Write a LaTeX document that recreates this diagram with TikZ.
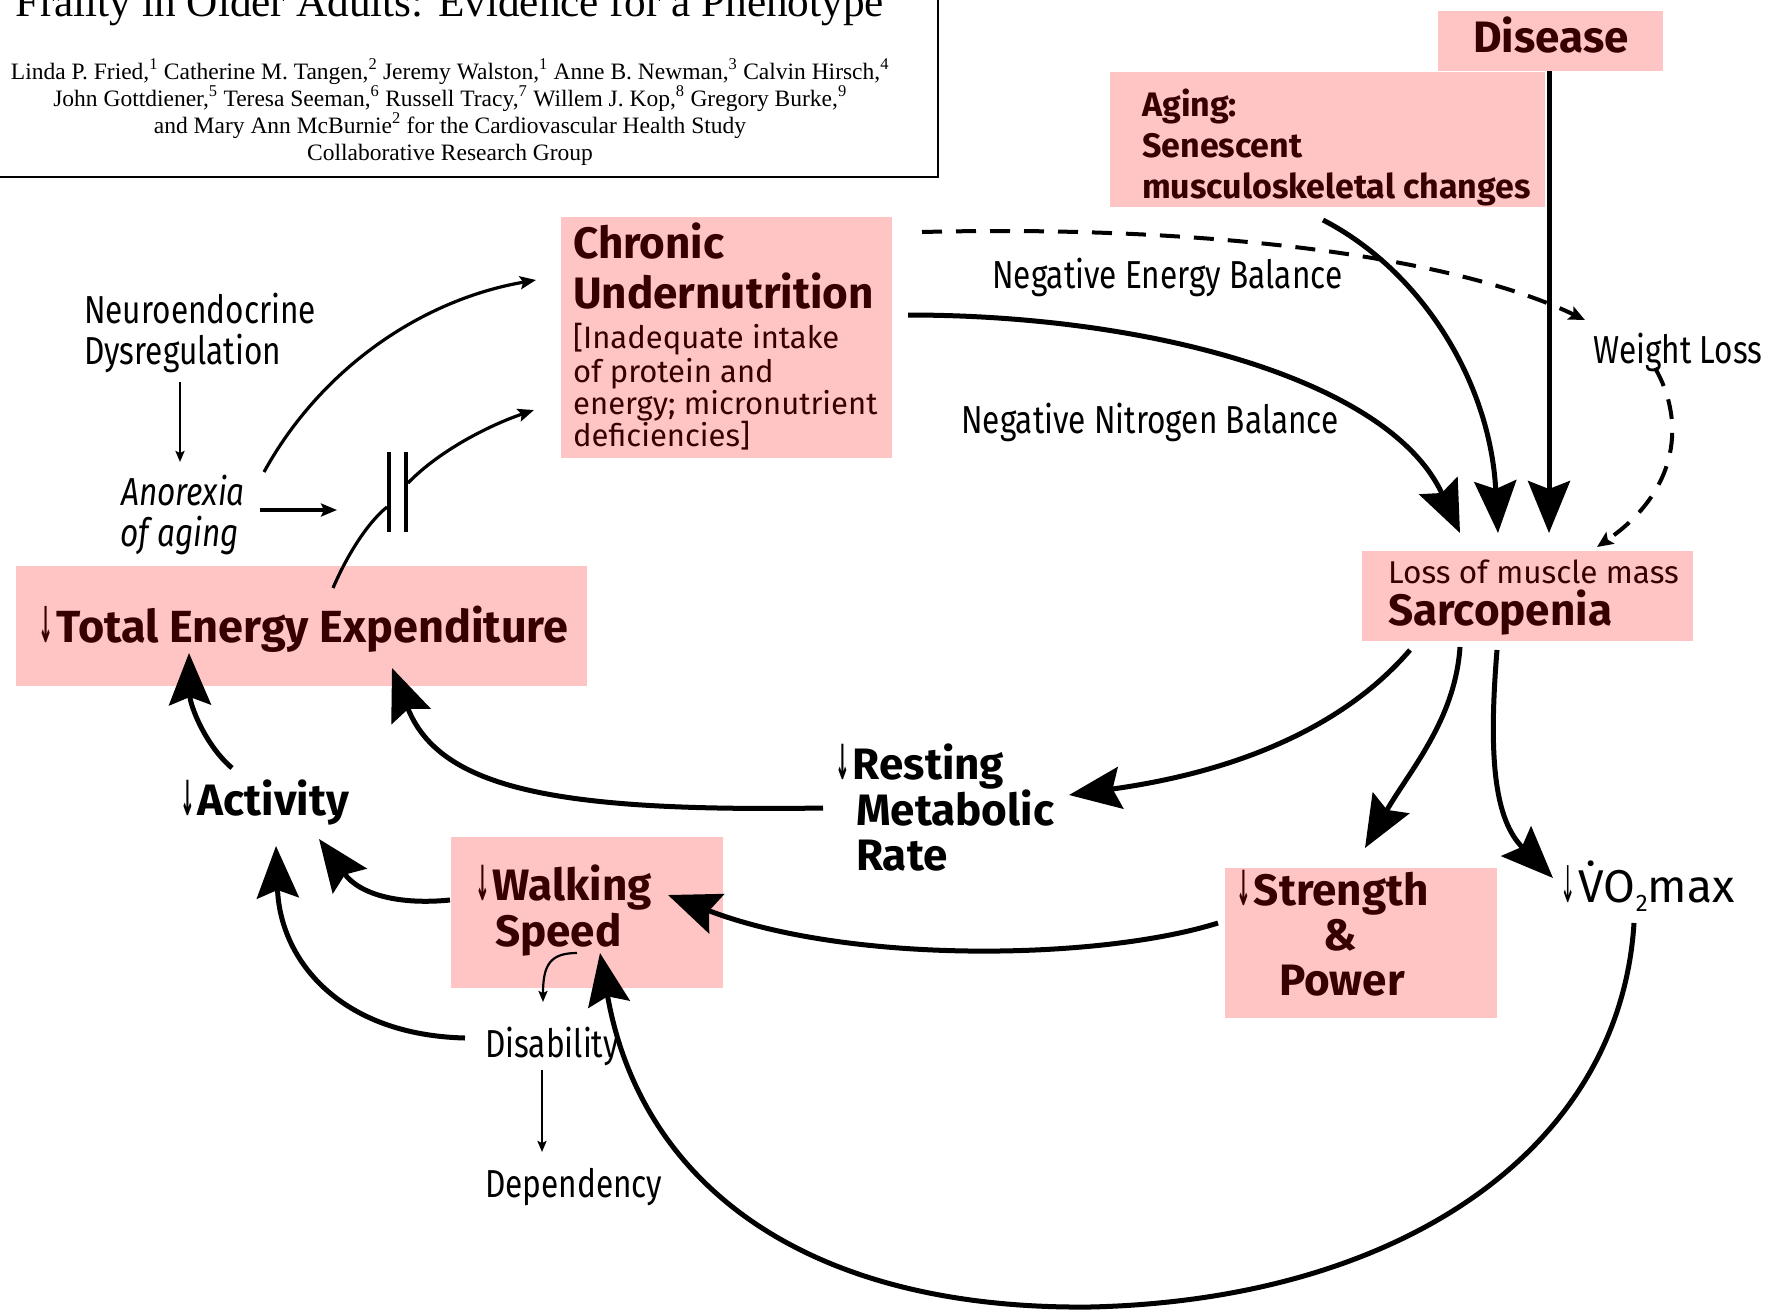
\documentclass[tikz,border=0pt]{standalone}
\usepackage{fontspec}
\usepackage{graphicx}
\setmainfont{Liberation Serif}
\newfontfamily\gsfam{Fira Sans}
\newfontfamily\gscond[FakeStretch=0.81]{Fira Sans}
\newfontfamily\symfam{DejaVu Sans}
\usetikzlibrary{arrows.meta}
\definecolor{pinkf}{RGB}{255,197,197}
\definecolor{boxtext}{RGB}{55,0,0}
\newcommand\fbig{\gsfam\bfseries\fontsize{44}{48}\selectfont}
\newcommand\fmid{\gsfam\bfseries\fontsize{34}{40}\selectfont}
\newcommand\freg{\gsfam\fontsize{31}{36}\selectfont}
\newcommand\flab{\gscond\fontsize{39}{44}\selectfont}
\newcommand\fvo{\gsfam\fontsize{46}{50}\selectfont}
\newcommand\dnar{{\symfam\scalebox{0.4}[1.1]{↓}}\hspace{3pt}}
\begin{document}
\begin{tikzpicture}[x=1pt,y=-1pt,
  pbox/.style={fill=pinkf, draw=none, inner sep=0, anchor=north west},
  btxt/.style={font=\fbig, text=boxtext, anchor=base west, inner sep=0},
  otxt/.style={font=\fbig, anchor=base west, inner sep=0},
  mtxt/.style={font=\fmid, text=boxtext, anchor=base west, inner sep=0},
  rtxt/.style={font=\freg, text=boxtext, anchor=base west, inner sep=0},
  ltxt/.style={font=\flab, anchor=base west, inner sep=0},
  atxt/.style={font=\rmfamily\fontsize{23.5}{27}\selectfont, anchor=base, inner sep=0},
  bigarr/.style={line width=5pt, -{Stealth[length=52pt,width=42pt,inset=8pt]}},
  midarr/.style={line width=3.2pt, -{Stealth[length=16pt,width=13pt,inset=3pt]}},
  thinarr/.style={line width=2.2pt, -{Stealth[length=11pt,width=9pt,inset=2pt]}},
  dasharr/.style={line width=4pt, dash pattern=on 20pt off 14pt, -{Stealth[length=16pt,width=14pt,inset=3pt]}}
]
\useasboundingbox (0,0) rectangle (1773,1310);

% ---------- header ----------
\node[draw, line width=2.5pt, minimum width=960, minimum height=200, anchor=south east, inner sep=0] (hdr) at (939,178) {};
\node[anchor=base, inner sep=0] (title) at (450,16) {\resizebox{868pt}{!}{\fontsize{40}{44}\selectfont Frailty in Older Adults: Evidence for a Phenotype}};
\node[atxt] (au1) at (450,79) {Linda P. Fried,\textsuperscript{1} Catherine M. Tangen,\textsuperscript{2} Jeremy Walston,\textsuperscript{1} Anne B. Newman,\textsuperscript{3} Calvin Hirsch,\textsuperscript{4}};
\node[atxt] (au2) at (450,106) {John Gottdiener,\textsuperscript{5} Teresa Seeman,\textsuperscript{6} Russell Tracy,\textsuperscript{7} Willem J. Kop,\textsuperscript{8} Gregory Burke,\textsuperscript{9}};
\node[atxt] (au3) at (450,133) {and Mary Ann McBurnie\textsuperscript{2} for the Cardiovascular Health Study};
\node[atxt] (au4) at (450,160) {Collaborative Research Group};

% ---------- pink boxes ----------
\node[pbox, minimum width=225, minimum height=60] (disbox) at (1438,11) {};
\node[pbox, minimum width=435, minimum height=135] (agbox) at (1110,72) {};
\node[pbox, minimum width=331, minimum height=241] (chbox) at (561,217) {};
\node[pbox, minimum width=331, minimum height=90] (sabox) at (1362,551) {};
\node[pbox, minimum width=571, minimum height=120] (teebox) at (16,566) {};
\node[pbox, minimum width=272, minimum height=151] (wkbox) at (451,837) {};
\node[pbox, minimum width=272, minimum height=150] (stbox) at (1225,868) {};

% ---------- connector end points ----------
\coordinate (disB) at (1549,71);   \coordinate (saT3) at (1549,533);
\coordinate (agB) at (1323,220);   \coordinate (saT2) at (1498,533);
\coordinate (chR) at (908,315);    \coordinate (saT1) at (1460,533);
\coordinate (chTR) at (922,232);   \coordinate (wlT) at (1585,320);
\coordinate (wlB) at (1655,368);   \coordinate (saTR) at (1597,547);
\coordinate (saB1) at (1410,650);  \coordinate (rmrR) at (1069,795);
\coordinate (saB2) at (1460,647);  \coordinate (stT) at (1365,848);
\coordinate (saB3) at (1497,650);  \coordinate (voL) at (1553,878);
\coordinate (rmrL) at (823,808);   \coordinate (teeB2) at (392,668);
\coordinate (actT) at (232,768);   \coordinate (teeB1) at (189,653);
\coordinate (wkL) at (450,900);    \coordinate (actB2) at (319,839);
\coordinate (dsL) at (465,1038);   \coordinate (actB1) at (276,846);
\coordinate (wkB) at (577,953);    \coordinate (dsT) at (543,1002);
\coordinate (dsB) at (542,1070);   \coordinate (dpT) at (542,1152);
\coordinate (voB) at (1634,923);   \coordinate (bot) at (1090,1307);
\coordinate (wkB2) at (600,953);
\coordinate (stL) at (1218,923);   \coordinate (wkR) at (668,895);
\coordinate (neB) at (180,382);    \coordinate (anT) at (180,462);
\coordinate (anR) at (260,510);    \coordinate (barIn) at (337,510);
\coordinate (barAt) at (389,452);  \coordinate (barAb) at (389,532);
\coordinate (barBt) at (406,452);  \coordinate (barBb) at (406,532);
\coordinate (anTR) at (264,472);   \coordinate (chL1) at (536,280);
\coordinate (barR) at (408,483);   \coordinate (chL2) at (534,410);
\coordinate (teeT) at (333,588);   \coordinate (barL) at (387,507);

% ---------- connectors ----------
\draw[bigarr] (disB) -- (saT3);
\draw[bigarr] (agB) .. controls (1420,270) and (1490,380) .. (saT2);
\draw[bigarr] (chR) .. controls (1150,315) and (1390,380) .. (saT1);
\draw[dasharr] (chTR) .. controls (1200,225) and (1450,255) .. (wlT);
\draw[dasharr] (wlB) .. controls (1685,420) and (1680,490) .. (saTR);
\draw[bigarr] (saB1) .. controls (1350,720) and (1250,770) .. (rmrR);
\draw[bigarr] (saB2) .. controls (1455,720) and (1410,770) .. (stT);
\draw[bigarr] (saB3) .. controls (1488,760) and (1495,820) .. (voL);
\draw[bigarr] (rmrL) .. controls (560,812) and (440,790) .. (teeB2);
\draw[bigarr] (actT) .. controls (205,745) and (190,705) .. (teeB1);
\draw[bigarr] (wkL) .. controls (400,905) and (360,895) .. (actB2);
\draw[bigarr] (dsL) .. controls (340,1035) and (280,960) .. (actB1);
\draw[bigarr] (stL) .. controls (1100,960) and (850,965) .. (wkR);
\draw[bigarr] (voB) .. controls (1620,1150) and (1400,1300) .. (bot)
                    .. controls (800,1310) and (640,1180) .. (wkB2);
\draw[thinarr] (wkB) .. controls (550,953) and (543,965) .. (dsT);
\draw[thinarr] (dsB) -- (dpT);
\draw[thinarr] (neB) -- (anT);
\draw[midarr] (anR) -- (barIn);
\draw[line width=3.5pt] (barAt) -- (barAb);
\draw[line width=3.5pt] (barBt) -- (barBb);
\draw[midarr] (anTR) .. controls (320,370) and (420,300) .. (chL1);
\draw[midarr] (barR) .. controls (440,450) and (490,425) .. (chL2);
\draw[line width=3.2pt] (teeT) .. controls (345,560) and (365,525) .. (barL);

% ---------- texts ----------
\node[btxt, anchor=base] (distxt) at (1551,52) {Disease};
\node[mtxt] (ag1) at (1142,116) {Aging:};
\node[mtxt] (ag2) at (1142,157) {Senescent};
\node[mtxt] (ag3) at (1142,198) {musculoskeletal changes};
\node[btxt] (ch1) at (573,258) {Chronic};
\node[btxt] (ch2) at (573,308) {Undernutrition};
\node[rtxt] (ch3) at (573,348) {[Inadequate intake};
\node[rtxt] (ch4) at (573,382) {of protein and};
\node[rtxt] (ch5) at (573,414) {energy; micronutrient};
\node[rtxt] (ch6) at (573,446) {deficiencies]};
\node[rtxt, font=\gsfam\fontsize{31.5}{36}\selectfont] (sa1) at (1388,583) {Loss of muscle mass};
\node[btxt] (sa2) at (1388,625) {Sarcopenia};
\node[btxt, font=\gsfam\bfseries\fontsize{45}{48}\selectfont] (tee) at (38,642) {\dnar Total Energy Expenditure};
\node[otxt] (act) at (180,815) {\dnar Activity};
\node[otxt] (rmr1) at (835,779) {\dnar Resting};
\node[otxt] (rmr2) at (856,825) {Metabolic};
\node[otxt] (rmr3) at (856,870) {Rate};
\node[btxt] (wk1) at (475,900) {\dnar Walking};
\node[btxt] (wk2) at (495,946) {Speed};
\node[btxt] (st1) at (1236,905) {\dnar Strength};
\node[btxt, anchor=base] (st2) at (1340,950) {\&};
\node[btxt, anchor=base] (st3) at (1342,995) {Power};
\node[anchor=base west, inner sep=0, font=\fvo] (vo) at (1560,902) {{\symfam\scalebox{0.4}[1.1]{↓}}\hspace{3pt}\.{V}O\raisebox{-0.2em}{\fontsize{24}{24}\selectfont 2}max};
\node[ltxt] (ne1) at (84,323) {Neuroendocrine};
\node[ltxt] (ne2) at (84,364) {Dysregulation};
\node[ltxt, anchor=base, font=\gscond\itshape\fontsize{39}{44}\selectfont] (an1) at (183,505) {Anorexia};
\node[ltxt, anchor=base, font=\gscond\itshape\fontsize{39}{44}\selectfont] (an2) at (180,546) {of aging};
\node[ltxt] (neb) at (992,288) {Negative Energy Balance};
\node[ltxt] (nnb) at (961,433) {Negative Nitrogen Balance};
\node[ltxt] (wl) at (1593,363) {Weight Loss};
\node[ltxt] (dis) at (485,1057) {Disability};
\node[ltxt] (dep) at (485,1197) {Dependency};
\end{tikzpicture}
\end{document}
